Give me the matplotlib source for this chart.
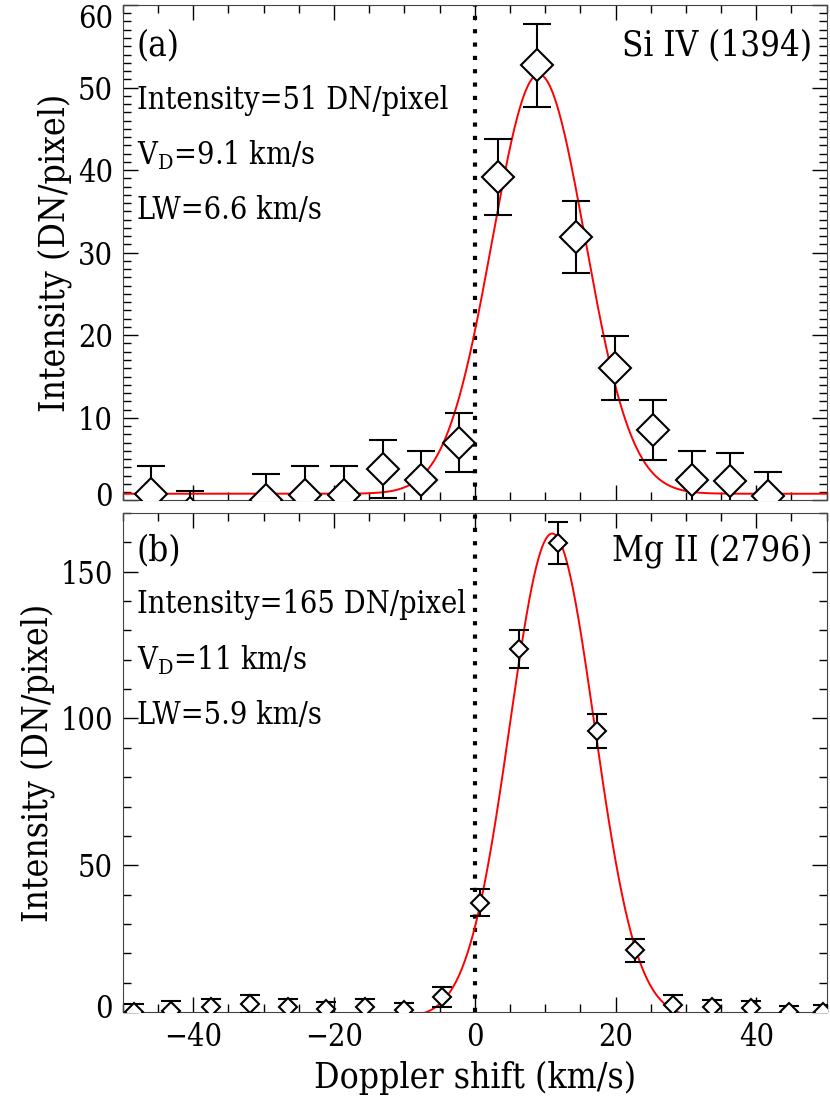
import numpy as np
import matplotlib
matplotlib.use('Agg')
import matplotlib.pyplot as plt
import matplotlib.transforms as mtransforms
from matplotlib.ticker import MultipleLocator

plt.rcParams['font.family'] = ['DejaVu Serif']
plt.rcParams['font.stretch'] = 'condensed'
plt.rcParams['mathtext.fontset'] = 'custom'
plt.rcParams['mathtext.rm'] = 'DejaVu Serif'

# panel (a): Si IV 1394
si_v = [-46.0, -40.4, -29.6, -24.1, -18.6, -13.1, -7.7, -2.2, 3.3, 8.9,
        14.4, 19.9, 25.3, 30.8, 36.3, 41.7]
si_int = [0.8, -1.5, 0.0, 0.7, 0.7, 3.8, 2.5, 7.0, 39.2, 52.7,
          31.9, 16.0, 8.5, 2.5, 2.3, 0.5]
si_err = [3.4, 2.6, 3.2, 3.5, 3.5, 3.5, 3.5, 3.6, 4.6, 5.0,
          4.4, 3.9, 3.6, 3.5, 3.4, 2.9]
# gaussian fit: amplitude, centre, width, background
si_fit = (50.8, 9.1, 6.6, 0.8)

# panel (b): Mg II 2796
mg_v = [-48.4, -43.1, -37.5, -32.0, -26.5, -21.1, -15.6, -10.1, -4.6, 0.8,
        6.3, 11.8, 17.3, 22.7, 28.2, 33.7, 39.2, 44.6, 49.5]
mg_int = [0.0, 0.5, 1.7, 2.6, 1.7, 0.9, 1.7, 0.6, 5.1, 37.3,
          123.6, 159.7, 95.7, 21.0, 2.3, 1.7, 1.4, 0.0, 0.0]
mg_err = [2.6, 3.2, 2.8, 3.1, 2.6, 2.5, 2.6, 2.6, 3.3, 4.5,
          6.4, 7.1, 5.8, 4.0, 3.4, 2.3, 2.4, 1.9, 2.3]
mg_fit = (165.0, 11.0, 6.0, -2.0)

panels = [
    dict(v=si_v, y=si_int, e=si_err, fit=si_fit, ylim=(0, 60), major=10, minor=1,
         tag='(a)', line='Si IV (1394)', tag_y=0.919,
         info=['Intensity=51 DN/pixel', r'V$_\mathrm{D}$=9.1 km/s', 'LW=6.6 km/s'],
         info_y=[0.808, 0.697, 0.586], ms=16, cap=10),
    dict(v=mg_v, y=mg_int, e=mg_err, fit=mg_fit, ylim=(0, 170), major=50, minor=10,
         tag='(b)', line='Mg II (2796)', tag_y=0.925,
         info=['Intensity=165 DN/pixel', r'V$_\mathrm{D}$=11 km/s', 'LW=5.9 km/s'],
         info_y=[0.816, 0.705, 0.595], ms=9, cap=7.5),
]

fig = plt.figure(figsize=(8.3, 11.07), dpi=100)
boxes = [[0.148, 0.548, 0.848, 0.4475], [0.148, 0.0858, 0.848, 0.4508]]
axes = []

xx = np.linspace(-50, 50, 1000)
for box, p in zip(boxes, panels):
    ax = fig.add_axes(box)
    axes.append(ax)
    a, c, w, b = p['fit']
    ax.plot(xx, a * np.exp(-(xx - c) ** 2 / (2 * w ** 2)) + b, color='red', lw=1.4, zorder=2)
    ax.errorbar(p['v'], p['y'], yerr=p['e'], fmt='D', ms=p['ms'], mfc='white',
                mec='black', mew=1.5, ecolor='black', elinewidth=1.5,
                capsize=p['cap'], capthick=1.5, zorder=3)
    ax.axvline(0, color='black', ls=(0, (1, 2.2)), lw=3, zorder=1)
    ax.set_xlim(-50, 50)
    ax.set_ylim(*p['ylim'])
    ax.xaxis.set_major_locator(MultipleLocator(20))
    ax.xaxis.set_minor_locator(MultipleLocator(5))
    ax.yaxis.set_major_locator(MultipleLocator(p['major']))
    ax.yaxis.set_minor_locator(MultipleLocator(p['minor']))
    ax.tick_params(which='both', direction='in', top=True, right=True, labelsize=22)
    ax.tick_params(which='major', length=11, width=1, pad=7)
    ax.tick_params(which='minor', length=6, width=1)
    for s in ax.spines.values():
        s.set_color('#444444')
    ax.set_ylabel('Intensity (DN/pixel)', fontsize=25.5, labelpad=4)
    ax.text(0.02, p['tag_y'], p['tag'], transform=ax.transAxes, fontsize=25, va='center')
    ax.text(0.98, p['tag_y'], p['line'], transform=ax.transAxes, fontsize=25,
            va='center', ha='right')
    for s, yy in zip(p['info'], p['info_y']):
        ax.text(0.02, yy, s, transform=ax.transAxes, fontsize=22, va='center')
    if p['tag'] == '(a)':
        ax.tick_params(labelbottom=False)
    else:
        ax.set_xlabel('Doppler shift (km/s)', fontsize=25.5, labelpad=6)

# nudge the end labels inside the panel like the original
fig.canvas.draw()
for ax, p in zip(axes, panels):
    for t in ax.yaxis.get_major_ticks():
        loc = t.get_loc()
        if loc == p['ylim'][0]:
            dy = 6
        elif loc == p['ylim'][1]:
            dy = -11
        else:
            continue
        t.label1.set_transform(t.label1.get_transform()
                               + mtransforms.ScaledTranslation(0, dy / 100, fig.dpi_scale_trans))

fig.savefig('out.png', dpi=100)
